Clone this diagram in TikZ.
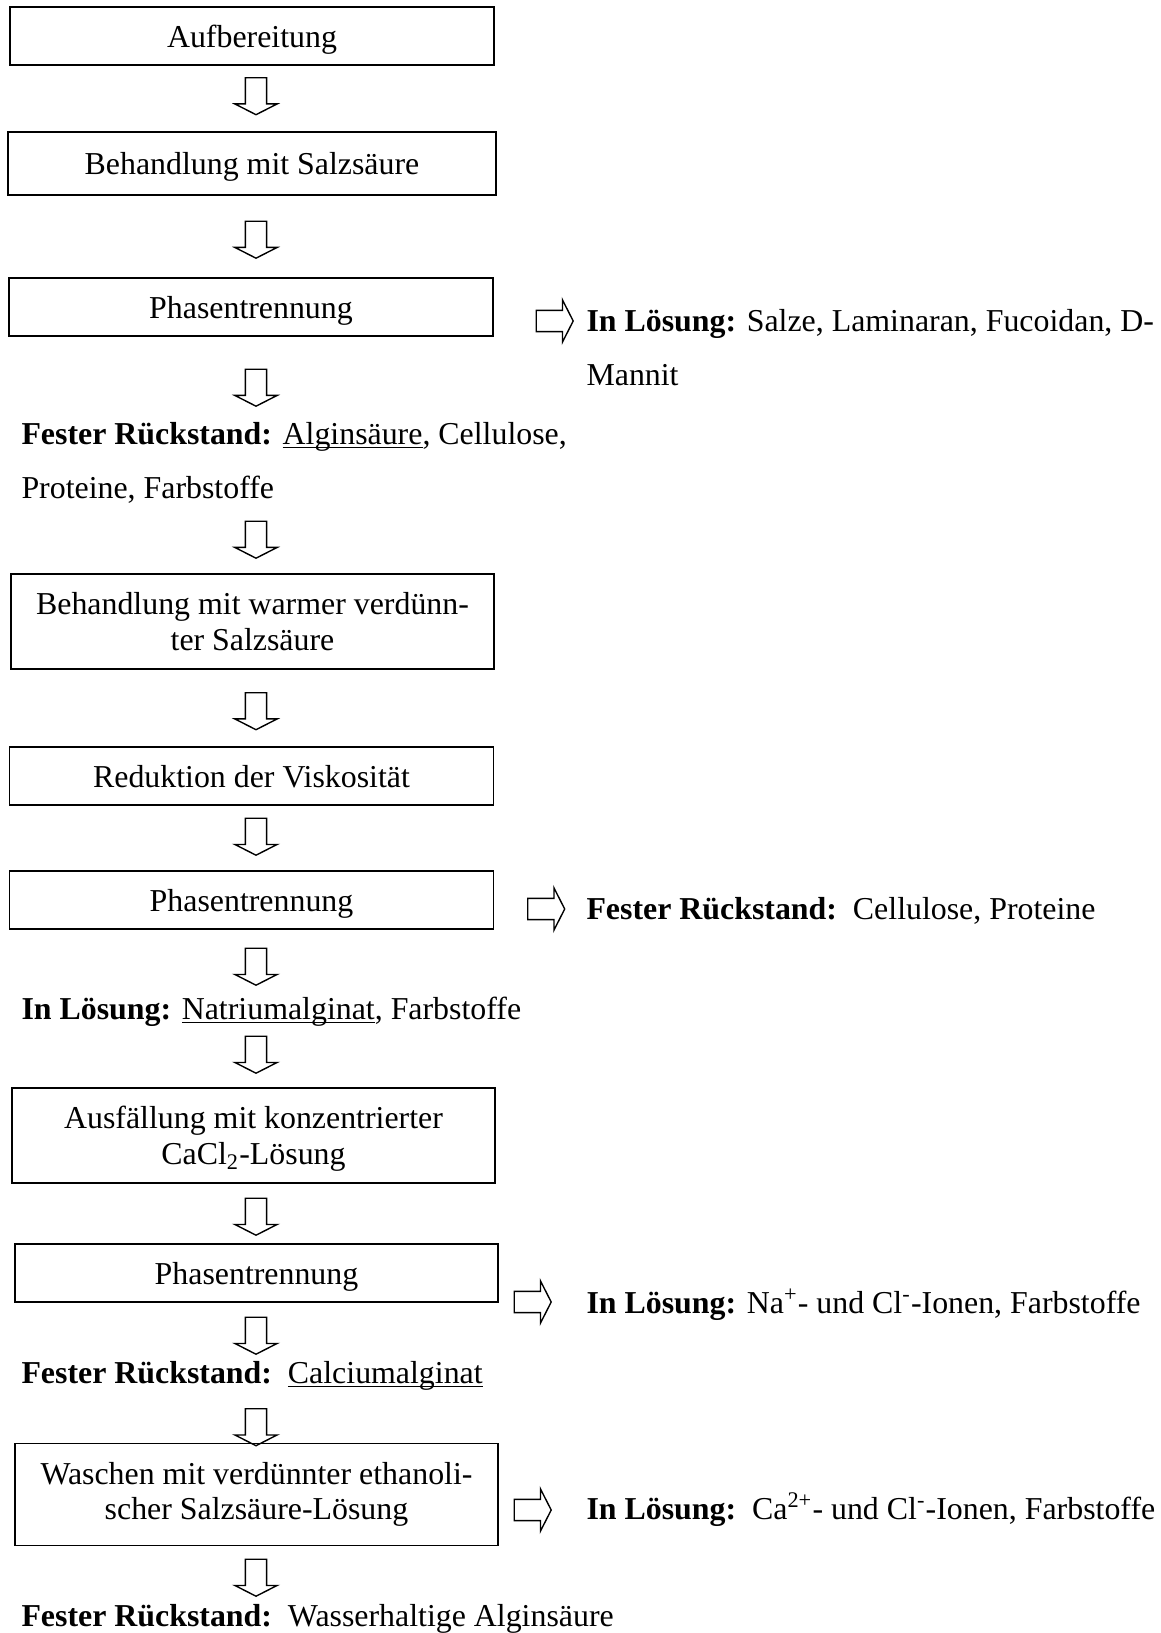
\documentclass[tikz,border=0pt]{standalone}
\usepackage{fontspec}
\setmainfont{Liberation Serif}
\usetikzlibrary{shapes.arrows}
\newcommand{\ulin}[1]{\setbox0\hbox{#1}\rlap{\rule[-1.5pt]{\wd0}{0.5pt}}\box0}

\begin{document}
\begin{tikzpicture}[x=0.3922pt,y=-0.3922pt,
  every node/.style={font=\fontsize{12.5}{14}\selectfont},
  stepbox/.style={draw,line width=0.75pt,minimum width=189.8pt,minimum height=22.75pt,inner sep=0pt,align=center,text depth=0pt},
  dnarrow/.style={single arrow,draw,line width=0.55pt,minimum height=14.5pt,single arrow head extend=4.1pt,single arrow tip angle=126,inner sep=3.9pt,shape border rotate=270},
  sdarrow/.style={dnarrow,shape border rotate=0},
  restext/.style={anchor=base west,inner sep=0pt,align=left,font=\fontsize{12.5}{21.5}\selectfont}]
\useasboundingbox (0,0) rectangle (1160,1633);
\node[stepbox] (b1) at (252,36) {Aufbereitung};
\node[dnarrow] (a1) at (256,93.5) {};
\node[stepbox,minimum width=191.4pt,minimum height=24.7pt] (b2) at (252,163.5) {Behandlung mit Salzsäure};
\node[dnarrow] (a2) at (256,237) {};
\node[stepbox] (b3) at (251,307) {Phasentrennung};
\node[sdarrow] (s1) at (552,321) {};
\node[restext] (r1) at (586,386) {\textbf{In Lösung:} Salze, Laminaran, Fucoidan, D-\\Mannit};
\node[dnarrow] (a3) at (256,385) {};
\node[restext] (l1) at (21,499) {\textbf{Fester Rückstand:} \ulin{Alginsäure}, Cellulose,\\Proteine, Farbstoffe};
\node[dnarrow] (a4) at (256,537) {};
\node[stepbox,minimum width=189.4pt,minimum height=37.3pt] (b4) at (252.5,621.5) {Behandlung mit warmer verdünn-\\ter Salzsäure};
\node[dnarrow] (a5) at (256,708.5) {};
\node[stepbox] (b5) at (251.5,776) {Reduktion der Viskosität};
\node[dnarrow] (a6) at (256,834) {};
\node[stepbox] (b6) at (251.5,900) {Phasentrennung};
\node[sdarrow] (s2) at (543.5,909) {};
\node[restext] (r2) at (586,919) {\textbf{Fester Rückstand:}\ \ Cellulose, Proteine};
\node[dnarrow] (a7) at (256,964) {};
\node[restext] (l2) at (21,1019) {\textbf{In Lösung:} \ulin{Natriumalginat}, Farbstoffe};
\node[dnarrow] (a8) at (256,1052) {};
\node[stepbox,minimum width=189.4pt,minimum height=37.3pt] (b7) at (253.5,1135.5) {Ausfällung mit konzentrierter\\CaCl\textsubscript{2}-Lösung};
\node[dnarrow] (a9) at (256,1214) {};
\node[stepbox,minimum width=189.4pt] (b8) at (256.5,1273) {Phasentrennung};
\node[sdarrow] (s3) at (530,1302) {};
\node[restext] (r3) at (586,1313) {\textbf{In Lösung:} Na\textsuperscript{+}- und Cl\textsuperscript{-}-Ionen, Farbstoffe};
\node[dnarrow] (a10) at (256,1333) {};
\node[restext] (l3) at (21,1383) {\textbf{Fester Rückstand:}\ \ \ulin{Calciumalginat}};
\node[dnarrow] (a11) at (256,1424.5) {};
\node[stepbox,minimum width=189.4pt,minimum height=40pt,text depth=2.7pt] (b9) at (256.5,1494.5) {Waschen mit verdünnter ethanoli-\\scher Salzsäure-Lösung};
\node[sdarrow] (s4) at (530,1510) {};
\node[restext] (r4) at (586,1519) {\textbf{In Lösung:}\ \ Ca\textsuperscript{2+}- und Cl\textsuperscript{-}-Ionen, Farbstoffe};
\node[dnarrow] (a12) at (256,1575) {};
\node[restext] (l4) at (21,1626) {\textbf{Fester Rückstand:}\ \ Wasserhaltige Alginsäure};
\end{tikzpicture}
\end{document}
